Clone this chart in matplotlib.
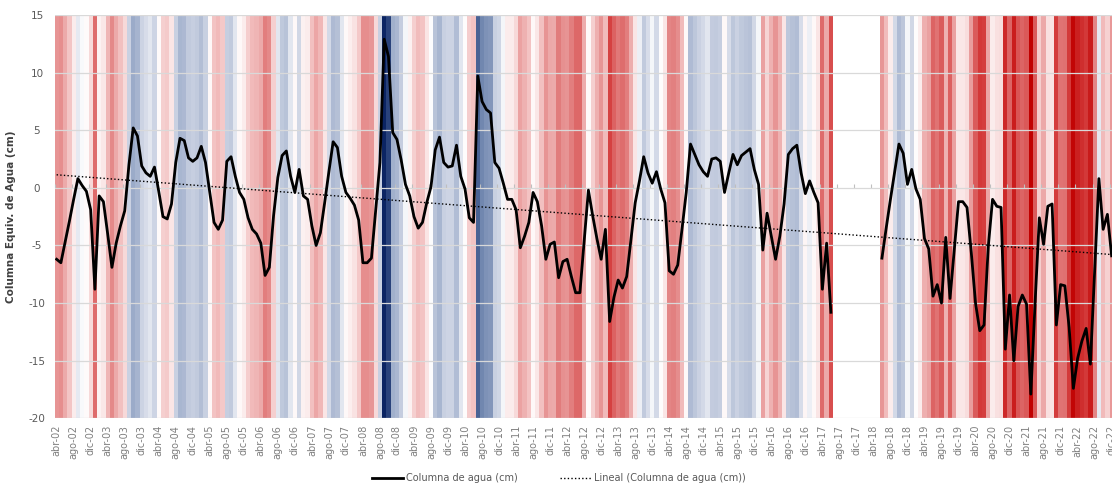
import numpy as np
import matplotlib
matplotlib.use("Agg")
import matplotlib.pyplot as plt
from matplotlib.colors import LinearSegmentedColormap, Normalize

# Etiquetas de meses (eje de categorías mensual)
meses = ['ene', 'feb', 'mar', 'abr', 'may', 'jun',
         'jul', 'ago', 'sep', 'oct', 'nov', 'dic']
anio_inicio, mes_inicio = 2002, 4      # abr-02

# Columna equivalente de agua (cm), misión GRACE: abr-02 .. jun-17
grace = [
    -6.2, -6.5, -4.7, -2.9, -1.0, 0.8, 0.2, -0.3, -1.9, -8.8, -0.7, -1.2,
    -4.0, -6.9, -4.8, -3.3, -2.0, 2.0, 5.2, 4.5, 1.9, 1.3, 1.0, 1.8,
    -0.3, -2.5, -2.7, -1.4, 2.2, 4.3, 4.1, 2.6, 2.3, 2.6, 3.6, 2.2,
    -0.4, -3.0, -3.6, -2.8, 2.3, 2.7, 1.0, -0.4, -1.0, -2.6, -3.6, -4.0,
    -4.8, -7.6, -6.9, -2.4, 0.9, 2.8, 3.2, 1.0, -0.4, 1.6, -0.7, -1.0,
    -3.3, -5.0, -3.9, -1.3, 1.4, 4.0, 3.5, 1.0, -0.4, -0.9, -1.5, -2.8,
    -6.5, -6.5, -6.1, -2.0, 2.2, 12.9, 11.4, 4.8, 4.2, 2.4, 0.3, -0.7,
    -2.5, -3.5, -3.0, -1.3, 0.1, 3.3, 4.4, 2.2, 1.8, 1.9, 3.7, 1.0,
    -0.1, -2.6, -3.0, 9.7, 7.5, 6.8, 6.5, 2.2, 1.7, 0.4, -1.0, -1.0,
    -1.9, -5.2, -4.2, -3.0, -0.4, -1.2, -3.3, -6.2, -4.9, -4.7, -7.8, -6.4,
    -6.2, -7.7, -9.1, -9.1, -4.6, -0.2, -2.4, -4.4, -6.2, -3.6, -11.6, -9.5,
    -8.0, -8.7, -7.7, -4.5, -1.3, 0.6, 2.7, 1.3, 0.4, 1.4, -0.1, -1.3,
    -7.2, -7.5, -6.7, -3.6, -0.4, 3.8, 2.9, 2.0, 1.4, 1.0, 2.5, 2.6,
    2.3, -0.4, 1.3, 2.9, 2.0, 2.8, 3.1, 3.4, 1.6, 0.3, -5.4, -2.2,
    -4.2, -6.2, -4.2, -1.4, 2.9, 3.4, 3.7, 1.3, -0.5, 0.6, -0.4, -1.3,
    -8.8, -4.8, -10.8,
]
# Meses sin datos entre ambas misiones: jul-17 .. may-18
meses_sin_datos = 11
# Misión GRACE-FO: jun-18 .. dic-22
grace_fo = [
    -6.1, -3.5, -1.0, 1.4, 3.8, 3.0, 0.3, 1.6, -0.1, -1.0, -4.4, -5.3,
    -9.4, -8.4, -10.0, -4.3, -9.6, -5.4, -1.2, -1.2, -1.7, -5.6, -10.0, -12.4,
    -11.9, -5.1, -1.0, -1.6, -1.7, -14.0, -9.3, -15.0, -10.3, -9.3, -10.1, -17.9,
    -10.0, -2.6, -4.9, -1.6, -1.4, -11.9, -8.4, -8.5, -12.1, -17.4, -14.8, -13.3,
    -12.2, -15.3, -7.2, 0.8, -3.6, -2.3, -5.9,
]

y_min, y_max = -20, 15
y_ticks = [15, 10, 5, 0, -5, -10, -15, -20]

# Paleta de las franjas: valor de referencia -> color
escala_valores = [-18, -12, -7, -3, 0, 1.5, 5, 9, 13]
escala_colores = ['#c00000', '#d43c3c', '#e48888', '#f3c4c4', '#ffffff',
                  '#d2d8e6', '#9faecb', '#56709f', '#0b2463']

agua = np.array(grace + [np.nan] * meses_sin_datos + grace_fo, dtype=float)
n = len(agua)
x = np.arange(n)
etiquetas = [
    f"{meses[(mes_inicio - 1 + i) % 12]}-{(anio_inicio + (mes_inicio - 1 + i) // 12) % 100:02d}"
    for i in range(n)
]

# Tendencia lineal sobre los meses con datos
validos = ~np.isnan(agua)
coef = np.polyfit(x[validos], agua[validos], 1)
tendencia = np.polyval(coef, x)

v0, v1 = escala_valores[0], escala_valores[-1]
cmap = LinearSegmentedColormap.from_list(
    "franjas", [((v - v0) / (v1 - v0), c) for v, c in zip(escala_valores, escala_colores)])
norm = Normalize(vmin=v0, vmax=v1)

W, H = 1112, 483
fig = plt.figure(figsize=(W / 100, H / 100), dpi=100)
left_px, right_px, top_px, bottom_px = 54.5, 1112, 15, 418.3
ax = fig.add_axes([left_px / W, (H - bottom_px) / H,
                   (right_px - left_px) / W, (bottom_px - top_px) / H])

# Franjas de fondo, una por mes
bordes = np.arange(n + 1) - 0.5
ax.pcolormesh(bordes, [y_min, y_max], np.ma.masked_invalid(agua)[None, :],
              cmap=cmap, norm=norm, shading='flat', antialiased=False,
              zorder=0, rasterized=True)

# Cuadrícula horizontal
for v in y_ticks:
    ax.axhline(v, color='#d9d9d9', lw=0.9, zorder=1)

ax.plot(x, tendencia, color='black', lw=1.0, ls=(0, (1, 1.6)), zorder=2,
        label='Lineal (Columna de agua (cm))')
ax.plot(x, agua, color='black', lw=2.0, solid_joinstyle='round', zorder=3,
        label='Columna de agua (cm)')

ax.set_xlim(-0.5, (1112 - 56.66) / 4.254)
ax.set_ylim(y_min, y_max)

for s in ax.spines.values():
    s.set_visible(False)

ax.set_yticks(y_ticks)
ax.set_yticklabels([str(v) for v in y_ticks])
ax.tick_params(axis='y', length=0, pad=12.6, labelsize=7.5, labelcolor='#595959')
for t in ax.get_yticklabels():
    t.set_horizontalalignment('center')

ax.set_xticks(x[::4])
ax.set_xticklabels(etiquetas[::4], rotation=90)
ax.tick_params(axis='x', length=0, pad=4.8, labelsize=7, labelcolor='#7f7f7f')
for t in ax.get_xticklabels():
    t.set_verticalalignment('top')

# Eje de categorías cruzando en 0, con marcas cada cuatro meses
eje0 = ax.secondary_xaxis((0 - y_min) / (y_max - y_min))
eje0.set_xticks(x[::4] - 0.5)
eje0.tick_params(axis='x', length=3, width=0.8, color='#bfbfbf',
                 labelbottom=False, labeltop=False, direction='out')
for s in eje0.spines.values():
    s.set_visible(False)

ax.set_ylabel('Columna Equiv. de Agua (cm)', fontsize=7.5, fontweight='bold',
              color='#404040')
ax.yaxis.set_label_coords(-(left_px - 16) / (right_px - left_px), 0.5)

h, l = ax.get_legend_handles_labels()
fig.legend(h[::-1], l[::-1], loc='center left',
           bbox_to_anchor=(372 / W, 5 / H), ncol=2, frameon=False,
           fontsize=7, labelcolor='#595959', handlelength=3.2,
           handletextpad=0.3, columnspacing=4.3, borderpad=0,
           borderaxespad=0)

fig.savefig('out.png', dpi=100)
